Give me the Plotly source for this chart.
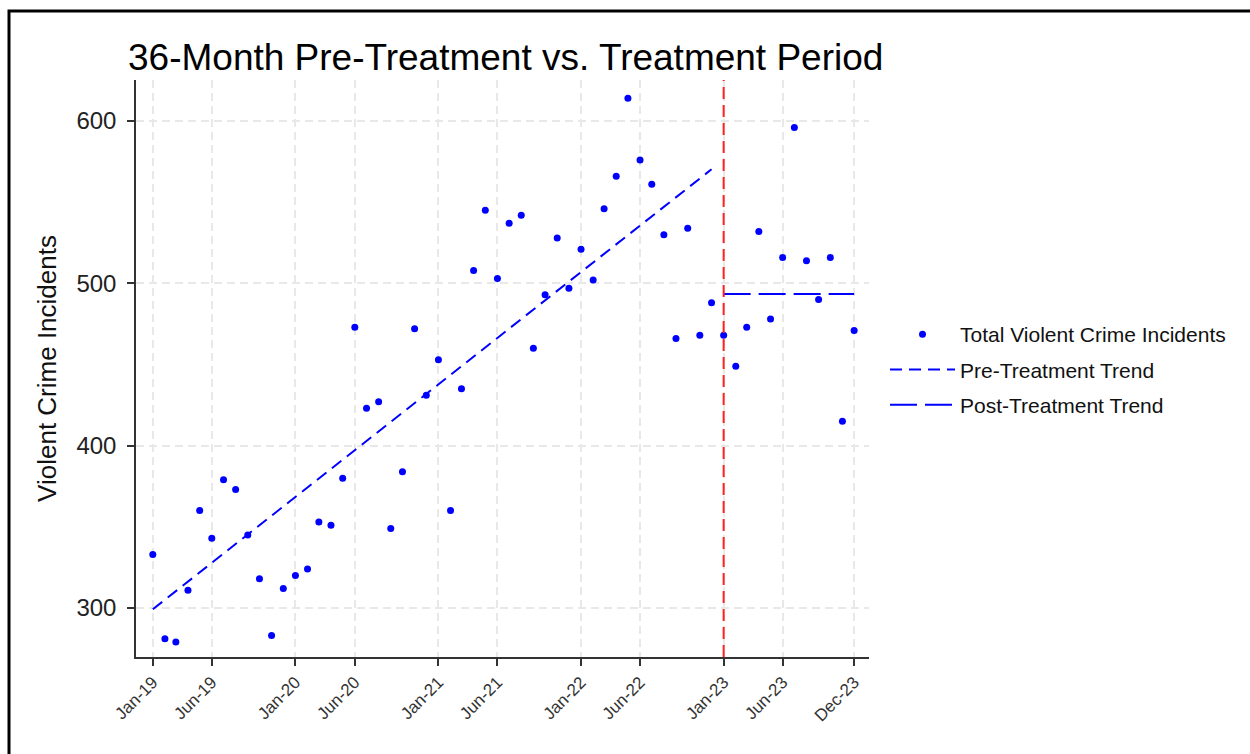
import plotly.graph_objects as go
import pandas as pd

# ---- data ----
months = pd.date_range("2019-01-01", "2023-12-01", freq="MS")
incidents = [333, 281, 279, 311, 360, 343, 379, 373, 345, 318,
             283, 312, 320, 324, 353, 351, 380, 473, 423, 427,
             349, 384, 472, 431, 453, 360, 435, 508, 545, 503,
             537, 542, 460, 493, 528, 497, 521, 502, 546, 566,
             614, 576, 561, 530, 466, 534, 468, 488, 468, 449,
             473, 532, 478, 516, 596, 514, 490, 516, 415, 471]
pre_trend_x = ["2019-01-01", "2022-12-01"]
pre_trend_y = [299.2, 570.3]
post_trend_x = ["2023-01-01", "2023-12-01"]
post_trend_y = [493.5, 493.5]
treatment_date = "2023-01-01"
tick_dates = ["2019-01-01", "2019-06-01", "2020-01-01", "2020-06-01", "2021-01-01",
              "2021-06-01", "2022-01-01", "2022-06-01", "2023-01-01", "2023-06-01",
              "2023-12-01"]
tick_labels = ["Jan-19", "Jun-19", "Jan-20", "Jun-20", "Jan-21", "Jun-21",
               "Jan-22", "Jun-22", "Jan-23", "Jun-23", "Dec-23"]
y_ticks = [300, 400, 500, 600]

FONT = "Liberation Sans, Arial, Helvetica, sans-serif"
W, H = 1250, 754
L, T, R, B = 136, 80, 381, 97
pw, ph = W - L - R, H - T - B

fig = go.Figure()
fig.add_trace(go.Scatter(x=months, y=incidents, mode="markers",
                         marker=dict(color="#0000ff", size=7),
                         name="Total Violent Crime Incidents",
                         legendgroup="a"))
fig.add_trace(go.Scatter(x=pre_trend_x, y=pre_trend_y, mode="lines",
                         line=dict(color="#0000ff", width=2, dash="12px,7px"),
                         name="Pre-Treatment Trend", legendgroup="b"))
fig.add_trace(go.Scatter(x=post_trend_x, y=post_trend_y, mode="lines",
                         line=dict(color="#0000ff", width=2, dash="27px,8px"),
                         name="Post-Treatment Trend", legendgroup="c"))

fig.add_shape(type="line", xref="x", yref="paper", x0=treatment_date, x1=treatment_date,
              y0=0, y1=1, line=dict(color="#ff2020", width=2, dash="12px,6px"))

# outer frame
fig.add_shape(type="rect", xref="paper", yref="paper",
              x0=(9 - L) / pw, x1=(W + 20 - L) / pw,
              y0=-(H + 20 - T - ph) / ph, y1=1 + (T - 11) / ph,
              line=dict(color="black", width=3), fillcolor="rgba(0,0,0,0)", layer="below")

fig.update_layout(
    width=W, height=H,
    margin=dict(l=L, r=R, t=T, b=B),
    paper_bgcolor="white", plot_bgcolor="white",
    font=dict(family=FONT, color="black"),
    title=dict(text="36-Month Pre-Treatment vs. Treatment Period",
               x=128 / W, xref="container", xanchor="left",
               y=1 - 57 / H, yref="container", yanchor="middle",
               font=dict(size=37, color="black")),
    legend=dict(x=885 / W, xref="container", y=1 - 314 / H, yref="container",
                xanchor="left", yanchor="top", font=dict(size=21, color="#111"),
                traceorder="grouped", tracegroupgap=5, itemwidth=65,
                bgcolor="rgba(0,0,0,0)"),
    showlegend=True,
)
fig.update_xaxes(type="date", range=["2018-11-19", "2024-01-08"],
                 tickvals=tick_dates, ticktext=tick_labels, tickangle=-45,
                 tickfont=dict(size=17, color="#333"),
                 showline=True, linecolor="#333", linewidth=1.5,
                 ticks="outside", ticklen=7, tickcolor="#333", tickwidth=1.5,
                 showgrid=True, gridcolor="#e8e8e8", gridwidth=1.5, griddash="8px,5px",
                 zeroline=False)
fig.update_yaxes(range=[269.8, 625.3], tickvals=y_ticks,
                 tickfont=dict(size=24, color="#222"),
                 showline=True, linecolor="#333", linewidth=1.5,
                 ticks="outside", ticklen=7, tickcolor="#333", tickwidth=1.5,
                 ticklabelstandoff=6,
                 showgrid=True, gridcolor="#e8e8e8", gridwidth=1.5, griddash="8px,5px",
                 zeroline=False,
                 title=dict(text="Violent Crime Incidents", font=dict(size=26, color="#111"),
                            standoff=12))

fig.write_html("out.html")
